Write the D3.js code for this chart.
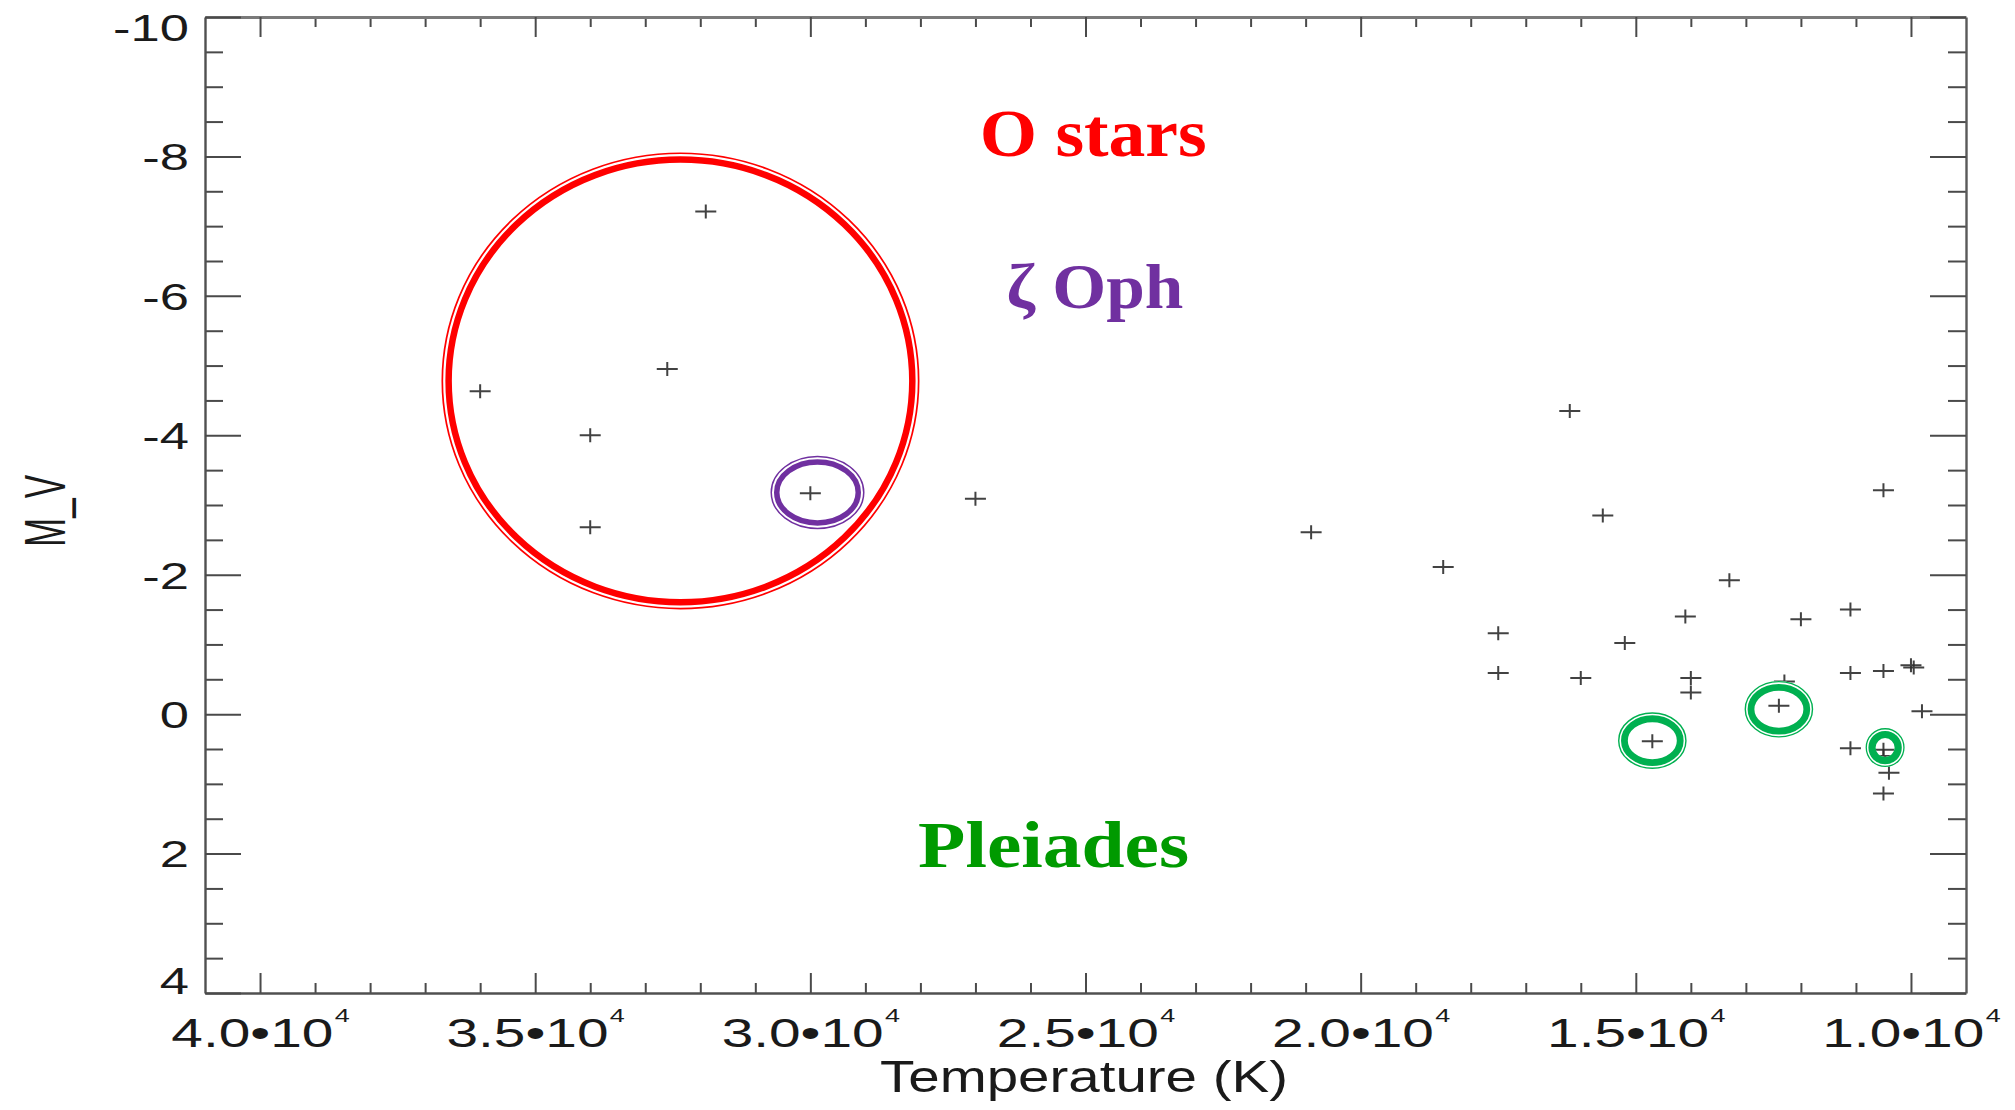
<!DOCTYPE html>
<html>
<head>
<meta charset="utf-8">
<title>M_V vs Temperature: O stars, ζ Oph and Pleiades</title>
<script src="https://d3js.org/d3.v7.min.js"></script>
<style>
  html, body { margin: 0; padding: 0; background: #ffffff; }
  svg { display: block; }
</style>
</head>
<body>
<svg id="chart" width="2015" height="1110"></svg>
<script>
// ---- Data -------------------------------------------------------------
// Effective temperature (K) of each star
const temperature = [
  31900, 32600, 36000, 34000, 30000, 34000, 27000, 20900,
  16200, 10500, 15600, 18500, 13300, 14100, 11100, 12000,
  17500, 15200, 17500, 16000, 14000, 14000, 11100, 10500,
  10000, 9950, 12300, 12400, 9800, 14700, 11100, 10500,
  10500, 10400, 10500
];
// Absolute visual magnitude M_V of each star (same order)
const magnitude = [
  -7.21, -4.95, -4.63, -4.00, -3.17, -2.68, -3.09, -2.61,
  -4.35, -3.21, -2.85, -2.11, -1.92, -1.40, -1.50, -1.36,
  -1.16, -1.02, -0.59, -0.52, -0.52, -0.31, -0.59, -0.62,
  -0.70, -0.67, -0.47, -0.12, -0.04, 0.39, 0.49, 0.51,
  0.60, 0.84, 1.14
];

// Highlighted groups and where their names sit (data units)
const groupNames = ["O stars", "ζ Oph", "Pleiades"];
const groupLabelT = [24860, 24830, 25580];
const groupLabelM = [-8.0, -5.82, 2.19];

// Circled stars: group of each ring and its centre (data units)
const ringGroup = [0, 1, 2, 2, 2];
const ringT = [32360, 29870, 12400, 14700, 10470];
const ringM = [-4.78, -3.18, -0.07, 0.38, 0.48];

// Axis ticks
const xTickValues = [40000, 35000, 30000, 25000, 20000, 15000, 10000];
const xTickMantissa = ["4.0", "3.5", "3.0", "2.5", "2.0", "1.5", "1.0"];
const xTickExponent = "4";
const yTickValues = [-10, -8, -6, -4, -2, 0, 2, 4];
const yTickLabels = ["-10", "-8", "-6", "-4", "-2", "0", "2", "4"];

// ---- Layout & style ---------------------------------------------------
const plotLeft = 205, plotRight = 1966, plotTop = 17, plotBottom = 993;
const STRETCH = 1.42;                 // wide axis lettering
const axisFont = "'Liberation Sans', Arial, Helvetica, sans-serif";
const labelFont = "'Liberation Serif', 'Times New Roman', serif";
const groupColor = ["#ff0000", "#7030a0", "#009a00"];
const ringColor = ["#ff0000", "#7030a0", "#00b050"];
const groupFontSize = [68, 64, 66];
const groupTextWidth = [227, 177, 271];
// outer radii (px) and band widths: thin line, white gap, thick line
const ringShape = [
  { rx: 239, ry: 228.5, thin: 1.7, gap: 2.2, thick: 6.5 },
  { rx: 47, ry: 36.7, thin: 1.5, gap: 2.0, thick: 5.5 },
  { rx: 34.3, ry: 28.3, thin: 1.4, gap: 1.6, thick: 6.8 },
  { rx: 34.3, ry: 28.3, thin: 1.4, gap: 1.6, thick: 6.8 },
  { rx: 19.5, ry: 19.5, thin: 1.3, gap: 1.5, thick: 7.2 }
];

const svg = d3.select("#chart");
svg.append("rect").attr("width", 2015).attr("height", 1110).attr("fill", "#fff");

const x = d3.scaleLinear().domain([41000, 9000]).range([plotLeft, plotRight]);
const y = d3.scaleLinear().domain([-10, 4]).range([plotTop, plotBottom]);

const xMinor = d3.range(10000, 40001, 1000).filter(v => v % 5000 !== 0);
const yMinor = d3.range(-10, 4.01, 0.5).filter(v => v % 2 !== 0);

function styleTicks(g) {
  g.selectAll(".tick line").attr("stroke", "#4a4a4a").attr("stroke-width", 2);
}
function noDomain(g) { g.select(".domain").remove(); }

// ---- Frame and ticks --------------------------------------------------
// bottom: minor + major with labels
svg.append("g").attr("transform", `translate(0,${plotBottom})`)
  .call(d3.axisBottom(x).tickValues(xMinor).tickSize(-10).tickSizeOuter(0).tickFormat(""))
  .call(noDomain).call(styleTicks);
const gx = svg.append("g").attr("transform", `translate(0,${plotBottom})`)
  .call(d3.axisBottom(x).tickValues(xTickValues).tickSize(-20).tickSizeOuter(0))
  .call(styleTicks);
gx.select(".domain").attr("stroke", "#505050").attr("stroke-width", 2.4);
gx.attr("font-family", axisFont).attr("font-size", 40);
gx.selectAll(".tick text").each(function (d, i) {
  const t = d3.select(this);
  t.text(null).attr("y", 54).attr("dy", null).attr("fill", "#1a1a1a")
    .attr("transform", `scale(${STRETCH},1)`);
  t.append("tspan").text(xTickMantissa[i] + "•10");
  t.append("tspan").attr("font-size", 19).attr("dx", 1).attr("dy", -25).text(xTickExponent);
});

// top: ticks only
svg.append("g").attr("transform", `translate(0,${plotTop})`)
  .call(d3.axisTop(x).tickValues(xMinor).tickSize(-10).tickSizeOuter(0).tickFormat(""))
  .call(noDomain).call(styleTicks);
const gt = svg.append("g").attr("transform", `translate(0,${plotTop})`)
  .call(d3.axisTop(x).tickValues(xTickValues).tickSize(-20).tickSizeOuter(0).tickFormat(""))
  .call(styleTicks);
gt.select(".domain").attr("stroke", "#7a7a7a").attr("stroke-width", 3);

// left: minor + major with labels
svg.append("g").attr("transform", `translate(${plotLeft},0)`)
  .call(d3.axisLeft(y).tickValues(yMinor).tickSize(-18).tickSizeOuter(0).tickFormat(""))
  .call(noDomain).call(styleTicks);
const gy = svg.append("g").attr("transform", `translate(${plotLeft},0)`)
  .call(d3.axisLeft(y).tickValues(yTickValues).tickSize(-36).tickSizeOuter(0)
    .tickPadding(16).tickFormat((d, i) => yTickLabels[i]))
  .call(styleTicks);
gy.select(".domain").attr("stroke", "#505050").attr("stroke-width", 2.4);
gy.attr("font-family", axisFont).attr("font-size", 37);
gy.selectAll(".tick text")
  .attr("x", -16 / STRETCH)
  .attr("dy", "0.36em")
  .attr("y", d => d === -10 ? 10 : (d === 4 ? -13 : 0))
  .attr("fill", "#1a1a1a")
  .attr("transform", `scale(${STRETCH},1)`);

// right: ticks only
svg.append("g").attr("transform", `translate(${plotRight},0)`)
  .call(d3.axisRight(y).tickValues(yMinor).tickSize(-18).tickSizeOuter(0).tickFormat(""))
  .call(noDomain).call(styleTicks);
const gr = svg.append("g").attr("transform", `translate(${plotRight},0)`)
  .call(d3.axisRight(y).tickValues(yTickValues).tickSize(-36).tickSizeOuter(0).tickFormat(""))
  .call(styleTicks);
gr.select(".domain").attr("stroke", "#5a5a5a").attr("stroke-width", 2.4);

// ---- Axis titles ------------------------------------------------------
svg.append("text")
  .attr("x", 1084).attr("y", 1092)
  .attr("text-anchor", "middle")
  .attr("font-family", axisFont).attr("font-size", 44)
  .attr("fill", "#1a1a1a")
  .attr("textLength", 408).attr("lengthAdjust", "spacingAndGlyphs")
  .text("Temperature (K)");

svg.append("text")
  .attr("transform", `translate(65,511) scale(${STRETCH},1) rotate(-90)`)
  .attr("text-anchor", "middle")
  .attr("font-family", axisFont).attr("font-size", 41)
  .attr("fill", "#1a1a1a")
  .attr("textLength", 72).attr("lengthAdjust", "spacingAndGlyphs")
  .text("M_V");

// ---- Stars ------------------------------------------------------------
svg.append("g").attr("class", "stars")
  .selectAll("path")
  .data(d3.range(temperature.length))
  .join("path")
  .attr("transform", i => `translate(${x(temperature[i])},${y(magnitude[i])})`)
  .attr("d", "M-10.5,0H10.5M0,-7V7")
  .attr("fill", "none")
  .attr("stroke", "#2e2e2e")
  .attr("stroke-width", 2)
  .attr("stroke-opacity", 0.9);

// ---- Double-line rings around highlighted stars -------------------------
const rings = svg.append("g").attr("class", "rings")
  .selectAll("g")
  .data(d3.range(ringT.length))
  .join("g")
  .attr("transform", i => `translate(${x(ringT[i])},${y(ringM[i])})`);

rings.each(function (i) {
  const g = d3.select(this);
  const s = ringShape[i];
  const col = ringColor[ringGroup[i]];
  const band = s.thin + s.gap + s.thick;
  g.append("ellipse")
    .attr("rx", s.rx - band / 2).attr("ry", s.ry - band / 2)
    .attr("fill", "none").attr("stroke", "#fff").attr("stroke-width", band);
  g.append("ellipse")
    .attr("rx", s.rx - s.thin / 2).attr("ry", s.ry - s.thin / 2)
    .attr("fill", "none").attr("stroke", col).attr("stroke-width", s.thin);
  const off = s.thin + s.gap + s.thick / 2;
  g.append("ellipse")
    .attr("rx", s.rx - off).attr("ry", s.ry - off)
    .attr("fill", "none").attr("stroke", col).attr("stroke-width", s.thick);
});

// ---- Group names ------------------------------------------------------
svg.append("g").attr("class", "group-names")
  .selectAll("text")
  .data(d3.range(groupNames.length))
  .join("text")
  .attr("x", i => x(groupLabelT[i]))
  .attr("y", i => y(groupLabelM[i]))
  .attr("text-anchor", "middle")
  .attr("font-family", labelFont)
  .attr("font-weight", "bold")
  .attr("font-size", i => groupFontSize[i])
  .attr("fill", i => groupColor[i])
  .attr("textLength", i => groupTextWidth[i])
  .attr("lengthAdjust", "spacingAndGlyphs")
  .text(i => groupNames[i]);
</script>
</body>
</html>
